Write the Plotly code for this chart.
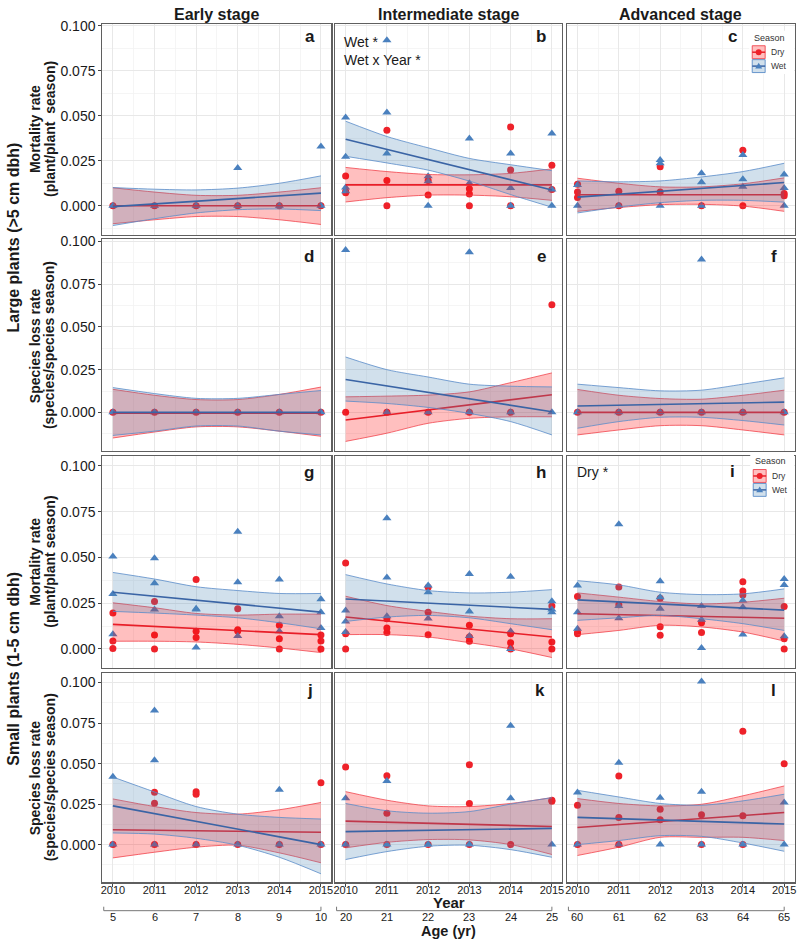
import plotly.graph_objects as go

W, H = 800, 939

# ---------------- data ----------------
YEARS = [2010, 2011, 2012, 2013, 2014, 2015]
FIT_YEARS = [2010, 2015]
STAGES = ["Early stage", "Intermediate stage", "Advanced stage"]
AGE_EARLY = [5, 6, 7, 8, 9, 10]
AGE_INTER = [20, 21, 22, 23, 24, 25]
AGE_ADV = [60, 61, 62, 63, 64, 65]
Y_TICKS = [0, 0.025, 0.05, 0.075, 0.1]
PANEL_LETTERS = ["a", "b", "c", "d", "e", "f", "g", "h", "i", "j", "k", "l"]
SEASONS = ["Dry", "Wet"]

# points: values per year (2010..2015)
a_dry_pts = [[0], [0], [0], [0], [0], [0]]
a_wet_pts = [[0], [0], [0], [0.021, 0], [0], [0.033, 0]]
a_dry_fit = [0.0, 0.0]
a_dry_lo = [-0.0100, -0.0078, -0.0060, -0.0060, -0.0078, -0.0104]
a_dry_hi = [0.0100, 0.0076, 0.0058, 0.0058, 0.0076, 0.0100]
a_wet_fit = [-0.0005, 0.0070]
a_wet_lo = [-0.0110, -0.0072, -0.0040, -0.0022, -0.0018, -0.0027]
a_wet_hi = [0.0101, 0.0092, 0.0088, 0.0098, 0.0125, 0.0166]

b_dry_pts = [[0.0166, 0.0079, 0.0072], [0.042, 0.014, 0], [0.014, 0.006], [0.0095, 0.0065, 0], [0.0438, 0.0199, 0], [0.0225, 0.009]]
b_wet_pts = [[0.049, 0.0272, 0.0101, 0.008], [0.092, 0.0518, 0.0291], [0.0164, 0.0136, 0], [0.0374, 0.0125], [0.029, 0.0099, 0], [0.0401, 0.009, 0]]
b_dry_fit = [0.0116, 0.0116]
b_dry_lo = [0.0021, 0.0045, 0.0059, 0.0059, 0.0050, 0.0030]
b_dry_hi = [0.0213, 0.0190, 0.0174, 0.0172, 0.0180, 0.0205]
b_wet_fit = [0.0370, 0.0088]
b_wet_lo = [0.0275, 0.0238, 0.0198, 0.0137, 0.0062, -0.0008]
b_wet_hi = [0.0470, 0.0385, 0.0322, 0.0263, 0.0228, 0.0195]

c_dry_pts = [[0.012, 0.0077, 0.0046], [0.0081, 0], [0.0217, 0.0077], [0], [0.0308, 0], [0.0068, 0.0055]]
c_wet_pts = [[0.0115, 0], [0], [0.0254, 0.0236, 0], [0.018, 0.0131, 0], [0.0282, 0.0147, 0.0105], [0.0173, 0.0099, 0]]
c_dry_fit = [0.0061, 0.0061]
c_dry_lo = [-0.0031, -0.0010, 0.0006, 0.0008, -0.0002, -0.0031]
c_dry_hi = [0.0153, 0.0125, 0.0105, 0.0105, 0.0122, 0.0155]
c_wet_fit = [0.0048, 0.0129]
c_wet_lo = [-0.0040, -0.0007, 0.0017, 0.0030, 0.0030, 0.0020]
c_wet_hi = [0.0138, 0.0133, 0.0138, 0.0160, 0.0190, 0.0236]

d_dry_pts = [[0], [0], [0], [0], [0], [0]]
d_wet_pts = [[0], [0], [0], [0], [0], [0]]
d_dry_fit = [-0.0005, -0.0005]
d_dry_lo = [-0.0150, -0.0115, -0.0085, -0.0085, -0.0110, -0.0140]
d_dry_hi = [0.0135, 0.0100, 0.0075, 0.0075, 0.0105, 0.0148]
d_wet_fit = [0.0, 0.0]
d_wet_lo = [-0.0135, -0.0110, -0.0080, -0.0080, -0.0110, -0.0132]
d_wet_hi = [0.0145, 0.0110, 0.0082, 0.0082, 0.0105, 0.0128]

e_dry_pts = [[0], [0], [0], [0], [0], [0.063]]
e_wet_pts = [[0.095], [0], [0], [0.0938, 0], [0], [0]]
e_dry_fit = [-0.0045, 0.0103]
e_dry_lo = [-0.0170, -0.0122, -0.0064, -0.0035, -0.0026, -0.0026]
e_dry_hi = [0.0091, 0.0095, 0.0101, 0.0120, 0.0174, 0.0231]
e_wet_fit = [0.0192, 0.0004]
e_wet_lo = [0.0066, 0.0052, 0.0029, -0.0006, -0.0054, -0.0132]
e_wet_hi = [0.0324, 0.0250, 0.0207, 0.0165, 0.0153, 0.0149]

f_dry_pts = [[0], [0], [0], [0], [0], [0]]
f_wet_pts = [[0], [0], [0], [0.0895, 0], [0], [0]]
f_dry_fit = [0.0, 0.0]
f_dry_lo = [-0.0132, -0.0103, -0.0078, -0.0078, -0.0103, -0.0132]
f_dry_hi = [0.0134, 0.0100, 0.0081, 0.0077, 0.0100, 0.0130]
f_wet_fit = [0.0037, 0.0060]
f_wet_lo = [-0.0093, -0.0054, -0.0029, -0.0029, -0.0048, -0.0074]
f_wet_hi = [0.0165, 0.0145, 0.0126, 0.0130, 0.0165, 0.0202]

g_dry_pts = [[0.0196, 0.0043, 0.0002], [0.0259, 0.0076, 0], [0.038, 0.0096, 0.0063], [0.0219, 0.0105, 0.0098], [0.0129, 0.0055, 0], [0.0076, 0.0043, 0]]
g_wet_pts = [[0.0505, 0.030, 0.008], [0.0495, 0.0359, 0.0216], [0.022, 0.0216, 0.0008], [0.064, 0.0364, 0.007], [0.0379, 0.0179, 0.0096], [0.0272, 0.020, 0.0114]]
g_dry_fit = [0.0134, 0.0078]
g_dry_lo = [0.0042, 0.0042, 0.0038, 0.0025, 0.0005, -0.0020]
g_dry_hi = [0.0252, 0.0225, 0.0194, 0.0185, 0.0190, 0.0190]
g_wet_fit = [0.0310, 0.0201]
g_wet_lo = [0.0205, 0.0196, 0.0185, 0.0170, 0.0143, 0.0110]
g_wet_hi = [0.0418, 0.0382, 0.0340, 0.0319, 0.0303, 0.0303]

h_dry_pts = [[0.0469, 0.0083, 0], [0.0165, 0.0114, 0.009], [0.0337, 0.0201, 0.0077], [0.0129, 0.0065, 0.0042], [0.0083, 0.0034, 0], [0.0234, 0.0038, 0]]
h_wet_pts = [[0.021, 0.015, 0.0093], [0.0714, 0.0391, 0.0178], [0.0346, 0.031, 0.0166], [0.0409, 0.0205, 0.0071], [0.0395, 0.0096, 0], [0.0261, 0.0216, 0.0201]]
h_dry_fit = [0.0174, 0.0065]
h_dry_lo = [0.0078, 0.0078, 0.0065, 0.0034, 0.0000, -0.0047]
h_dry_hi = [0.0288, 0.0237, 0.0205, 0.0179, 0.0165, 0.0165]
h_wet_fit = [0.0273, 0.0216]
h_wet_lo = [0.0150, 0.0174, 0.0183, 0.0170, 0.0138, 0.0105]
h_wet_hi = [0.0406, 0.0355, 0.0319, 0.0306, 0.0310, 0.0324]

i_dry_pts = [[0.0286, 0.009, 0.0083], [0.0339, 0.0241], [0.0277, 0.0121, 0.0074], [0.0143, 0.009], [0.0367, 0.0317, 0.0295], [0.0232, 0.0056, 0]]
i_wet_pts = [[0.0346, 0.0201, 0.011], [0.0681, 0.0234, 0.0168], [0.037, 0.0283, 0.0219], [0.0234, 0.016, 0.0005], [0.0264, 0.0228, 0.0079], [0.0382, 0.035, 0.0069]]
i_dry_fit = [0.0192, 0.0168]
i_dry_lo = [0.0078, 0.0101, 0.0129, 0.0120, 0.0092, 0.0043]
i_dry_hi = [0.0306, 0.0283, 0.0259, 0.0246, 0.0255, 0.0277]
i_wet_fit = [0.0268, 0.0212]
i_wet_lo = [0.0156, 0.0170, 0.0183, 0.0165, 0.0138, 0.0101]
i_wet_hi = [0.0373, 0.0350, 0.0310, 0.0297, 0.0301, 0.0328]

j_dry_pts = [[0], [0.0323, 0.0256, 0], [0.0327, 0.0311, 0], [0], [0], [0.0382, 0]]
j_wet_pts = [[0.0419, 0], [0.0828, 0.0521, 0], [0], [0], [0.0339, 0], [0]]
j_dry_fit = [0.0092, 0.0076]
j_dry_lo = [-0.0082, -0.0047, -0.0016, -0.0004, -0.0051, -0.0112]
j_dry_hi = [0.0282, 0.0235, 0.0198, 0.0188, 0.0215, 0.0260]
j_wet_fit = [0.0239, 0.0]
j_wet_lo = [0.0072, 0.0065, 0.0039, -0.0004, -0.0078, -0.0180]
j_wet_hi = [0.0417, 0.0325, 0.0235, 0.0188, 0.0168, 0.0158]

k_dry_pts = [[0.0479, 0], [0.0425, 0.0194, 0], [0], [0.0493, 0.0254, 0], [0], [0.0274, 0.0268]]
k_wet_pts = [[0.0286, 0], [0.0393, 0], [0], [0], [0.0734, 0.0286], [0]]
k_dry_fit = [0.0145, 0.0112]
k_dry_lo = [-0.0020, 0.0014, 0.0031, 0.0029, 0.0000, -0.0061]
k_dry_hi = [0.0327, 0.0274, 0.0239, 0.0235, 0.0254, 0.0290]
k_wet_fit = [0.0080, 0.0100]
k_wet_lo = [-0.0092, -0.0043, -0.0010, -0.0004, -0.0031, -0.0078]
k_wet_hi = [0.0254, 0.0209, 0.0194, 0.0204, 0.0250, 0.0290]

l_dry_pts = [[0.0243, 0], [0.0423, 0.0168, 0], [0.0219, 0.0153], [0.0184, 0], [0.070, 0.0178, 0], [0.0499]]
l_wet_pts = [[0.0321, 0], [0.0505, 0], [0.029, 0], [0.1006, 0.0327, 0], [0], [0.026, 0]]
l_dry_fit = [0.0106, 0.0198]
l_dry_lo = [-0.0067, -0.0016, 0.0045, 0.0045, 0.0045, 0.0025]
l_dry_hi = [0.0284, 0.0254, 0.0239, 0.0249, 0.0301, 0.0362]
l_wet_fit = [0.0168, 0.0127]
l_wet_lo = [0.0000, 0.0025, 0.0055, 0.0051, 0.0010, -0.0041]
l_wet_hi = [0.0335, 0.0294, 0.0254, 0.0243, 0.0270, 0.0311]

G = globals()
PANEL_DATA = {
    p: {s: {key: G[f"{p}_{s.lower()}_{key}"] for key in ("pts", "fit", "lo", "hi")} for s in SEASONS}
    for p in PANEL_LETTERS
}
AGES = [AGE_EARLY, AGE_INTER, AGE_ADV]

# ---------------- styling / geometry ----------------
FONT = "Liberation Sans, Arial, sans-serif"
COL_PX = [(101, 331), (335, 563), (568, 796.5)]
ROW_PX = [(18, 230), (235, 448), (453, 666), (671, 882)]
ROW_YRANGE = [(-0.016, 0.1011), (-0.0227, 0.1012), (-0.0103, 0.1054), (-0.0233, 0.1061)]
X_RANGE = (2009.75, 2015.25)

STYLE = {
    "Dry": dict(pt="rgb(238,34,42)", symbol="circle", size=7, line="rgb(232,30,40)",
                edge="rgba(240,60,70,0.85)", fill="rgba(255,0,0,0.25)"),
    "Wet": dict(pt="rgb(74,128,190)", symbol="triangle-up", size=8, line="rgb(58,100,165)",
                edge="rgba(90,140,200,0.9)", fill="rgba(70,130,180,0.25)"),
}
BORDER = "#5f5f5f"
GRID = "#E8E8E8"
GRID_MINOR = "#F2F2F2"
TEXT = "#1a1a1a"


def px(x):
    return x / W


def py(y):
    return 1 - y / H


fig = go.Figure()
layout = {}

for k, letter in enumerate(PANEL_LETTERS):
    r, c = divmod(k, 3)
    n = k + 1
    xa = "x" if n == 1 else f"x{n}"
    ya = "y" if n == 1 else f"y{n}"
    d = PANEL_DATA[letter]

    # points first (ribbons drawn over them)
    for s in SEASONS:
        st = STYLE[s]
        pts = d[s]["pts"]
        xs = [yr for yr, vals in zip(YEARS, pts) for _ in vals]
        ys = [v for vals in pts for v in vals]
        fig.add_trace(go.Scatter(x=xs, y=ys, mode="markers", xaxis=xa, yaxis=ya,
                                 marker=dict(color=st["pt"], size=st["size"], symbol=st["symbol"],
                                             line=dict(width=0)),
                                 showlegend=False, hoverinfo="skip"))
    for s in SEASONS:
        st = STYLE[s]
        fig.add_trace(go.Scatter(x=YEARS, y=d[s]["lo"], mode="lines", xaxis=xa, yaxis=ya,
                                 line=dict(color=st["edge"], width=0.9, shape="spline", smoothing=0.8),
                                 showlegend=False, hoverinfo="skip"))
        fig.add_trace(go.Scatter(x=YEARS, y=d[s]["hi"], mode="lines", xaxis=xa, yaxis=ya,
                                 fill="tonexty", fillcolor=st["fill"],
                                 line=dict(color=st["edge"], width=0.9, shape="spline", smoothing=0.8),
                                 showlegend=False, hoverinfo="skip"))
        fig.add_trace(go.Scatter(x=FIT_YEARS, y=d[s]["fit"], mode="lines", xaxis=xa, yaxis=ya,
                                 line=dict(color=st["line"], width=1.6),
                                 showlegend=False, hoverinfo="skip"))

    x0, x1 = COL_PX[c]
    y0, y1 = ROW_PX[r]
    bottom = r == 3
    left = c == 0
    layout["xaxis" if n == 1 else f"xaxis{n}"] = dict(
        domain=[px(x0), px(x1)], range=list(X_RANGE), anchor=ya,
        showline=True, mirror=True, linecolor=BORDER, linewidth=1.2,
        showgrid=True, gridcolor=GRID, gridwidth=1, zeroline=False,
        tickmode="array", tickvals=YEARS, ticktext=[str(v) for v in YEARS],
        ticks="outside" if bottom else "", ticklen=3, tickcolor="#444", tickwidth=1,
        ticklabelstandoff=-6,
        showticklabels=bottom, tickfont=dict(family=FONT, size=11, color=TEXT),
        minor=dict(tickmode="array", tickvals=[v + 0.5 for v in YEARS[:-1]],
                   showgrid=True, gridcolor=GRID_MINOR, gridwidth=0.8),
        fixedrange=True,
    )
    layout["yaxis" if n == 1 else f"yaxis{n}"] = dict(
        domain=[py(y1), py(y0)], range=list(ROW_YRANGE[r]), anchor=xa,
        showline=True, mirror=True, linecolor=BORDER, linewidth=1.2,
        showgrid=True, gridcolor=GRID, gridwidth=1, zeroline=False,
        tickmode="array", tickvals=Y_TICKS, ticktext=[f"{v:.3f}" for v in Y_TICKS],
        ticks="outside" if left else "", ticklen=3, tickcolor="#444", tickwidth=1,
        showticklabels=left, tickfont=dict(family=FONT, size=14, color=TEXT),
        minor=dict(tickmode="array", tickvals=[v + 0.0125 for v in Y_TICKS[:-1]] + [-0.0125],
                   showgrid=True, gridcolor=GRID_MINOR, gridwidth=0.8),
        fixedrange=True,
    )

annotations = []
shapes = []


def ann(text, x, y, size=14, bold=False, angle=0, xanchor="center", yanchor="middle", color=TEXT):
    annotations.append(dict(text=f"<b>{text}</b>" if bold else text, x=px(x), y=py(y),
                            xref="paper", yref="paper", showarrow=False, textangle=angle,
                            xanchor=xanchor, yanchor=yanchor,
                            font=dict(family=FONT, size=size, color=color)))


# column titles
for c, title in enumerate(STAGES):
    ann(title, (COL_PX[c][0] + COL_PX[c][1]) / 2, 9, size=16, bold=True)

# panel letters
LETTER_POS = {"a": (310, 31), "b": (542, 31), "c": (734, 31),
              "d": (309, 252), "e": (542, 252), "f": (776, 252),
              "g": (309, 470), "h": (542, 470), "i": (734, 468),
              "j": (310, 689), "k": (541, 689), "l": (775, 689)}
for letter, (lx, ly) in LETTER_POS.items():
    ann(letter, lx, ly, size=17, bold=True)

# significance notes
ann("Wet *", 342, 36, size=14, xanchor="left")
ann("Wet x Year *", 342, 54, size=14, xanchor="left")
ann("Dry *", 576, 469, size=14, xanchor="left")

# row titles
ann("Large plants (>5 cm dbh)", 12, 233, size=16, bold=True, angle=-90)
ann("Small plants (1-5 cm dbh)", 12, 667, size=16, bold=True, angle=-90)
INNER = [("Mortality rate", "(plant/plant\u00a0 season)"),
         ("Species loss rate", "(species/species season)"),
         ("Mortality rate", "(plant/plant season)"),
         ("Species loss rate", "(species/species season)")]
for r, (l1, l2) in enumerate(INNER):
    cy = (ROW_PX[r][0] + ROW_PX[r][1]) / 2
    ann(l1, 33, cy, size=14, bold=True, angle=-90)
    ann(l2, 48, cy, size=14, bold=True, angle=-90)

# x axis titles and age axis
XMID = (COL_PX[0][0] + COL_PX[2][1]) / 2
ann("Year", XMID, 902.5, size=15, bold=True)
ann("Age (yr)", XMID, 931, size=14.5, bold=True)
BR_Y = 910.5
for c in range(3):
    xr = f"x{10 + c}"
    a0 = YEARS[0] - 0.22
    a1 = YEARS[-1]
    shapes.append(dict(type="path", xref=xr, yref="paper",
                       path=f"M {a0},{py(BR_Y - 4)} L {a0},{py(BR_Y)} L {a1},{py(BR_Y)} L {a1},{py(BR_Y - 4)}",
                       line=dict(color="#777", width=1)))
    for yr, age in zip(YEARS, AGES[c]):
        annotations.append(dict(text=str(age), x=yr, y=py(916.5), xref=xr, yref="paper",
                                showarrow=False, xanchor="center", yanchor="middle",
                                font=dict(family=FONT, size=11, color=TEXT)))


# legends (panel c and panel i)
def legend(xl, y_title, y_dry, y_wet):
    shapes.append(dict(type="rect", xref="paper", yref="paper", layer="above",
                       x0=px(xl - 3), x1=px(796), y0=py(y_wet + 8), y1=py(y_title - 7),
                       fillcolor="white", line=dict(width=0)))
    ann("Season", xl, y_title, size=9, xanchor="left", color="#333")
    for s, yc in (("Dry", y_dry), ("Wet", y_wet)):
        st = STYLE[s]
        bx0, bx1 = xl, xl + 13
        shapes.append(dict(type="rect", xref="paper", yref="paper", layer="above",
                           x0=px(bx0), x1=px(bx1), y0=py(yc + 6.5), y1=py(yc - 6.5),
                           fillcolor=st["fill"], line=dict(color=st["edge"], width=1)))
        shapes.append(dict(type="line", xref="paper", yref="paper", layer="above",
                           x0=px(bx0), x1=px(bx1), y0=py(yc), y1=py(yc),
                           line=dict(color=st["line"], width=1.5)))
        cx = (bx0 + bx1) / 2
        if s == "Dry":
            shapes.append(dict(type="circle", xref="paper", yref="paper", layer="above",
                               x0=px(cx - 3), x1=px(cx + 3), y0=py(yc + 3), y1=py(yc - 3),
                               fillcolor=st["pt"], line=dict(width=0)))
        else:
            shapes.append(dict(type="path", xref="paper", yref="paper", layer="above",
                               path=f"M {px(cx - 3.5)},{py(yc + 2.5)} L {px(cx + 3.5)},{py(yc + 2.5)} L {px(cx)},{py(yc - 3.5)} Z",
                               fillcolor=st["pt"], line=dict(width=0)))
        ann(s, bx1 + 4, yc, size=8.5, xanchor="left", color="#333")


legend(754, 32, 46.5, 60.5)
legend(755, 458, 473, 487)

fig.update_layout(
    width=W, height=H, margin=dict(l=0, r=0, t=0, b=0),
    paper_bgcolor="white", plot_bgcolor="white", showlegend=False,
    annotations=annotations, shapes=shapes, **layout,
)

POST = ("document.body.style.margin='0px';document.body.style.padding='0px';"
        "document.documentElement.style.overflow='hidden';"
        "var gd=document.getElementById('{plot_id}');"
        "gd.style.position='fixed';gd.style.left='0px';gd.style.top='0px';")

fig.write_html("out.html", post_script=POST, config={"displayModeBar": False, "staticPlot": True})
